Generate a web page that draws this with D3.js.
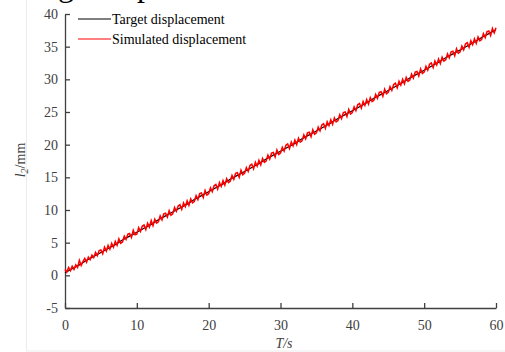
<!DOCTYPE html>
<html>
<head>
<meta charset="utf-8">
<script src="https://cdn.jsdelivr.net/npm/d3@7"></script>
<style>
  html, body { margin: 0; padding: 0; background: #fff; }
  svg { display: block; }
  svg text { font-family: "Liberation Serif", "Times New Roman", serif; }
</style>
</head>
<body>
<svg id="chart" width="505" height="352"></svg>
<script>
// Time axis ticks (s) and displacement ticks (mm)
const xTicks = [0, 10, 20, 30, 40, 50, 60];
const yTicks = [-5, 0, 5, 10, 15, 20, 25, 30, 35, 40];

// Target displacement, sampled every 1 s from 0 to 60 s
const targetTime = d3.range(0, 61, 1);
const targetDisp = [
  0.4, 1.0, 1.6, 2.3, 2.9, 3.5, 4.1, 4.7, 5.4, 6.0,
  6.6, 7.2, 7.8, 8.5, 9.1, 9.7, 10.3, 10.9, 11.6, 12.2,
  12.8, 13.4, 14.0, 14.7, 15.3, 15.9, 16.5, 17.1, 17.8, 18.4,
  19.0, 19.6, 20.2, 20.9, 21.5, 22.1, 22.7, 23.3, 24.0, 24.6,
  25.2, 25.8, 26.4, 27.1, 27.7, 28.3, 28.9, 29.5, 30.2, 30.8,
  31.4, 32.0, 32.6, 33.3, 33.9, 34.5, 35.1, 35.7, 36.4, 37.0,
  37.6
];

// Simulated displacement, sampled every 0.25 s from 0 to 60 s
const simTime = d3.range(0, 241).map(i => i * 0.25);
const simDisp = [
  0.9, 0.5, 1.2, 0.7,   1.4, 0.9, 1.6, 1.2,   2.3, 1.5, 2.1, 2.6,
  2.0, 2.8, 2.4, 3.1,   2.7, 3.5, 3.0, 3.8,   3.9, 3.3, 4.3, 3.7,
  4.6, 4.0, 4.9, 4.3,   5.2, 4.6, 5.6, 4.9,   5.1, 6.0, 5.5, 6.3,
  6.4, 5.8, 6.9, 6.2,   6.3, 7.3, 6.7, 7.5,   7.7, 7.0, 8.0, 7.4,
  8.4, 7.6, 8.6, 8.0,   8.2, 9.1, 8.5, 9.4,   9.5, 8.9, 9.9, 9.2,
  9.4, 10.4, 9.8, 10.6, 10.8, 10.1, 11.1, 10.5, 11.4, 10.7, 11.7, 11.1,
  11.3, 12.2, 11.6, 12.5, 12.6, 11.9, 13.0, 12.3, 12.5, 13.4, 12.8, 13.7,
  13.9, 13.2, 14.2, 13.6, 14.5, 13.8, 14.8, 14.2, 14.4, 15.3, 14.7, 15.6,
  15.7, 15.0, 16.1, 15.4, 15.6, 16.5, 15.9, 16.8, 17.0, 16.3, 17.3, 16.7,
  17.6, 16.9, 17.9, 17.3, 17.5, 18.4, 17.8, 18.7, 18.8, 18.1, 19.2, 18.5,
  18.7, 19.6, 19.0, 19.9, 20.1, 19.4, 20.4, 19.8, 20.7, 20.0, 21.0, 20.4,
  20.6, 21.5, 20.9, 21.8, 21.9, 21.2, 22.3, 21.6, 21.8, 22.7, 22.1, 23.0,
  23.2, 22.5, 23.5, 22.9, 23.8, 23.1, 24.1, 23.5, 23.7, 24.6, 24.0, 24.9,
  25.0, 24.3, 25.4, 24.7, 24.9, 25.8, 25.2, 26.1, 26.3, 25.6, 26.6, 26.0,
  26.9, 26.2, 27.2, 26.6, 26.8, 27.7, 27.1, 28.0, 28.1, 27.4, 28.5, 27.8,
  28.0, 28.9, 28.3, 29.2, 29.4, 28.7, 29.7, 29.1, 30.0, 29.3, 30.3, 29.7,
  29.9, 30.8, 30.2, 31.1, 31.2, 30.5, 31.6, 30.9, 31.1, 32.0, 31.4, 32.3,
  32.5, 31.8, 32.8, 32.2, 33.1, 32.4, 33.4, 32.8, 33.0, 33.9, 33.3, 34.2,
  34.3, 33.6, 34.7, 34.0, 34.2, 35.1, 34.5, 35.4, 35.6, 34.9, 35.9, 35.3,
  36.2, 35.5, 36.5, 35.9, 36.1, 37.0, 36.4, 37.3, 37.4, 36.7, 37.8, 37.1,
  37.9
];

const seriesNames = ["Target displacement", "Simulated displacement"];
const seriesColors = ["#000000", "#ff0000"];

const svg = d3.select("#chart");

// light outer frame of the chart area
svg.append("rect")
  .attr("x", 26.5).attr("y", -10)
  .attr("width", 520).attr("height", 361)
  .attr("fill", "none").attr("stroke", "#ececec").attr("stroke-width", 1);

// fragments of the heading above the chart
svg.append("text").attr("x", 58).attr("y", -4)
  .attr("font-size", 32).attr("fill", "#000").text("g");
svg.append("text").attr("x", 137).attr("y", -4)
  .attr("font-size", 32).attr("fill", "#000").text("p");

const x = d3.scaleLinear().domain([0, 60]).range([65, 496]);
const y = d3.scaleLinear().domain([-5, 40]).range([308, 14]);

const axisColor = "#404040";
const plainNumber = d => String(d);

// bottom axis, ticks pointing inward
const gx = svg.append("g").attr("transform", `translate(0,${y(-5)})`)
  .call(d3.axisBottom(x).tickValues(xTicks).tickFormat(plainNumber)
    .tickSizeInner(-5).tickSizeOuter(0).tickPadding(12));
// left axis, ticks pointing inward
const gy = svg.append("g").attr("transform", `translate(${x(0)},0)`)
  .call(d3.axisLeft(y).tickValues(yTicks).tickFormat(plainNumber)
    .tickSizeInner(-5).tickSizeOuter(0).tickPadding(7));

[gx, gy].forEach(g => {
  g.attr("font-family", null).attr("font-size", null);
  g.select(".domain").attr("stroke", axisColor).attr("stroke-width", 1.3);
  g.selectAll(".tick line").attr("stroke", axisColor).attr("stroke-width", 1.3);
  g.selectAll(".tick text")
    .attr("fill", axisColor)
    .style("font-size", "14px")
    .style("font-family", "'Liberation Serif', 'Times New Roman', serif");
});
gy.selectAll(".tick text").attr("x", -7);

// lines
const line = d3.line().x(d => x(d[0])).y(d => y(d[1]));
const targetPts = targetTime.map((t, i) => [t, targetDisp[i]]);
const simPts = simTime.map((t, i) => [t, simDisp[i]]);

svg.append("path").datum(targetPts)
  .attr("d", line).attr("fill", "none")
  .attr("stroke", seriesColors[0]).attr("stroke-width", 1.2);
svg.append("path").datum(simPts)
  .attr("d", line).attr("fill", "none")
  .attr("stroke", seriesColors[1]).attr("stroke-width", 1.5)
  .attr("stroke-linejoin", "miter");

// legend
const legend = svg.append("g");
seriesNames.forEach((name, i) => {
  const ly = 19 + i * 20;
  legend.append("line")
    .attr("x1", 78).attr("x2", 111).attr("y1", ly).attr("y2", ly)
    .attr("stroke", seriesColors[i]).attr("stroke-width", 1);
  legend.append("text")
    .attr("x", 112).attr("y", ly + 4.5)
    .attr("font-size", 14).attr("fill", "#000")
    .text(name);
});

// axis titles
svg.append("text")
  .attr("x", 284).attr("y", 348)
  .attr("text-anchor", "middle")
  .attr("font-size", 14).attr("font-style", "italic").attr("fill", "#404040")
  .text("T/s");

const yt = svg.append("text")
  .attr("transform", "translate(25,160) rotate(-90)")
  .attr("text-anchor", "middle")
  .attr("font-size", 14).attr("fill", "#404040");
yt.append("tspan").attr("font-style", "italic").text("l");
yt.append("tspan").attr("font-style", "italic").attr("font-size", 10).attr("dy", 3).text("2");
yt.append("tspan").attr("dy", -3).text("/mm");
</script>
</body>
</html>
